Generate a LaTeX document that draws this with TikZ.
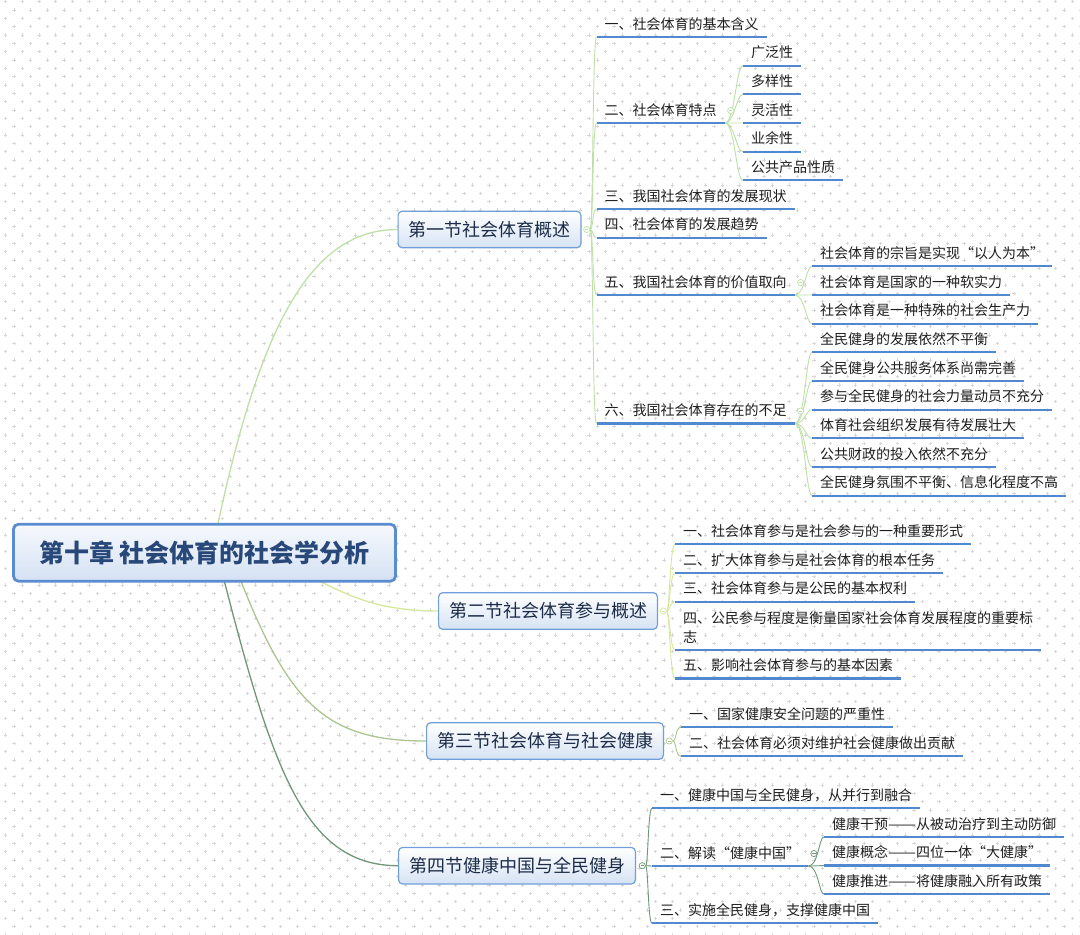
\documentclass[tikz,border=0pt]{standalone}
\usepackage{fontspec}
\usepackage{graphicx}
\setmainfont{Noto Sans CJK SC}
\usetikzlibrary{positioning,backgrounds}

\definecolor{ulinec}{RGB}{80,137,207}
\definecolor{rootline}{RGB}{90,140,208}
\definecolor{roottop}{RGB}{246,249,253}
\definecolor{rootbot}{RGB}{212,225,243}
\definecolor{secline}{RGB}{112,158,218}
\definecolor{secbot}{RGB}{214,227,244}
\definecolor{roottext}{RGB}{40,72,122}
\definecolor{sectext}{RGB}{28,44,72}
\definecolor{leaftext}{RGB}{30,30,30}
\definecolor{gridc}{RGB}{215,215,215}
\definecolor{brA}{RGB}{190,224,166}
\definecolor{brB}{RGB}{214,232,156}
\definecolor{brC}{RGB}{170,198,142}
\definecolor{brD}{RGB}{112,150,122}
\newcommand\wdash{\resizebox{28pt}{\height}{——}}
\newcommand\wcomma{\makebox[14pt][l]{，}}

\begin{document}
\begin{tikzpicture}[x=1pt,y=-1pt,
 rootbox/.style={draw=rootline,line width=2.8pt,rounded corners=5pt,top color=roottop,bottom color=rootbot,minimum width=382pt,minimum height=57pt,font=\fontsize{25}{30}\selectfont\bfseries,text=roottext},
 sect/.style={draw=secline,line width=1.2pt,rounded corners=4pt,top color=white,bottom color=secbot,minimum height=36.5pt,inner xsep=10.4pt,anchor=west,font=\fontsize{18}{22}\selectfont,text=sectext},
 leaf/.style={anchor=south west,inner xsep=8pt,inner ysep=0pt,text height=12pt,text depth=7.7pt,font=\fontsize{14}{18.5}\selectfont,text=leaftext,
  append after command={(\tikzlastnode.south west) edge[draw=ulinec,line width=2.2pt] (\tikzlastnode.south east)}},
 fold/.style={circle,draw=#1,fill=white,line width=0.7pt,minimum size=6.2pt,inner sep=0pt,
  path picture={\draw[#1,line width=0.6pt] ([xshift=1.4pt]path picture bounding box.west) -- ([xshift=-1.4pt]path picture bounding box.east);}},
 br/.style={draw=#1,line width=0.9pt}]
\useasboundingbox (0,0) rectangle (1080,935);

% dotted backdrop
\begin{scope}[on background layer]
\fill[white] (0,0) rectangle (1080,935);
\foreach \j in {0,...,112}
 \draw[gridc,line width=0.6pt] \foreach \i in {0,...,64} {({5.7+16.667*\i+8.333*mod(\j,2)},{1.7+8.333*\j}) +(-1.6,0) -- +(1.6,0) +(0,-1.6) -- +(0,1.6)};
\end{scope}

\node[rootbox] (root) at (204.5,552.7) {第十章 社会体育的社会学分析};

% sections
\node[sect] (sec1) at (397.5,229.5) {第一节社会体育概述};
\node[sect] (sec2) at (438,611) {第二节社会体育参与概述};
\node[sect] (sec3) at (426,741) {第三节社会体育与社会健康};
\node[sect] (sec4) at (398,865.7) {第四节健康中国与全民健身};
\node[fold=brA,right=1.8pt of sec1] (f1) {};
\node[fold=brB,right=1.8pt of sec2] (f2) {};
\node[fold=brC,right=1.8pt of sec3] (f3) {};
\node[fold=brD,right=2.8pt of sec4] (f4) {};

% section 1
\node[leaf] (a1) at (596.5,37) {一、社会体育的基本含义};
\node[leaf] (a2) at (596.5,123) {二、社会体育特点};
\node[leaf] (a3) at (596.5,209) {三、我国社会体育的发展现状};
\node[leaf] (a4) at (596.5,237.7) {四、社会体育的发展趋势};
\node[leaf] (a5) at (596.5,295) {五、我国社会体育的价值取向};
\node[leaf] (a6) at (596.5,423.5) {六、我国社会体育存在的不足};
\foreach \t [count=\i] in {广泛性,多样性,灵活性,业余性,公共产品性质}
 \node[leaf] (a2s\i) at (743,{37+28.67*\i}) {\t};
\foreach \t [count=\i] in {社会体育的宗旨是实现“以人为本”,社会体育是国家的一种软实力,社会体育是一种特殊的社会生产力}
 \node[leaf] (a5s\i) at (812,{37+28.67*(\i+7)}) {\t};
\foreach \t [count=\i] in {全民健身的发展依然不平衡,全民健身公共服务体系尚需完善,参与全民健身的社会力量动员不充分,体育社会组织发展有待发展壮大,公共财政的投入依然不充分,全民健身氛围不平衡、信息化程度不高}
 \node[leaf] (a6s\i) at (812,{37+28.67*(\i+10)}) {\t};
\node[fold=brA,right=2.3pt of a2,yshift=2.4pt] (a2f) {};
\node[fold=brA,right=2.3pt of a5,yshift=2.4pt] (a5f) {};
\node[fold=brA,right=2.3pt of a6,yshift=2.4pt] (a6f) {};

% section 2
\node[leaf] (b1) at (675,544) {一、社会体育参与是社会参与的一种重要形式};
\node[leaf] (b2) at (675,573) {二、扩大体育参与是社会体育的根本任务};
\node[leaf] (b3) at (675,601.7) {三、社会体育参与是公民的基本权利};
\node[leaf,align=left] (b4) at (675,650) {四、公民参与程度是衡量国家社会体育发展程度的重要标\\志};
\node[leaf] (b5) at (675,678.5) {五、影响社会体育参与的基本因素};

% section 3
\node[leaf] (c1) at (681,727.3) {一、国家健康安全问题的严重性};
\node[leaf] (c2) at (681,756.3) {二、社会体育必须对维护社会健康做出贡献};

% section 4
\node[leaf] (d1) at (652,808.3) {一、健康中国与全民健身\wcomma 从并行到融合};
\node[leaf] (d2) at (652,866) {二、解读“健康中国”};
\node[leaf] (d3) at (652,923.3) {三、实施全民健身\wcomma 支撑健康中国};
\foreach \t [count=\i] in {健康干预\wdash 从被动治疗到主动防御,健康概念\wdash 四位一体“大健康”,健康推进\wdash 将健康融入所有政策}
 \node[leaf] (d2s\i) at (824,{808.3+28.6*\i}) {\t};
\node[fold=brD,right=2pt of d2,yshift=2.4pt] (d2f) {};

% connectors
\begin{scope}[on background layer]
\draw[br=brA,line width=1.3pt] ([xshift=7.5pt]root.center) .. controls +(44,-220) and +(-90,0) .. (sec1.west);
\draw[br=brB,line width=1.3pt] (root.center) .. controls +(116,0) and +(-116,0) .. (sec2.west);
\draw[br=brC,line width=1.3pt] ([xshift=25.5pt]root.center) .. controls +(55,147) and +(-106,0) .. (sec3.west);
\draw[br=brD,line width=1.3pt] ([xshift=12.5pt]root.center) .. controls +(53,207) and +(-98,0) .. (sec4.west);
\foreach \b in {a1,a2,a3,a4,a5,a6}
 \draw[br=brA] (f1.east) .. controls +(3,0) and +(-4,0) .. (\b.south west);
\foreach \b in {a2s1,a2s2,a2s3,a2s4,a2s5}
 \draw[br=brA] (a2.south east) .. controls +(10,0) and +(-7,0) .. (\b.south west);
\foreach \b in {a5s1,a5s2,a5s3}
 \draw[br=brA] (a5.south east) .. controls +(10,0) and +(-6,0) .. (\b.south west);
\foreach \b in {a6s1,a6s2,a6s3,a6s4,a6s5,a6s6}
 \draw[br=brA] (a6.south east) .. controls +(10,0) and +(-6,0) .. (\b.south west);
\foreach \b in {b1,b2,b3,b4,b5}
 \draw[br=brB] (f2.east) .. controls +(3,0) and +(-5,0) .. (\b.south west);
\foreach \b in {c1,c2}
 \draw[br=brC] (f3.east) .. controls +(4,0) and +(-6,0) .. (\b.south west);
\foreach \b in {d1,d2,d3}
 \draw[br=brD] (f4.east) .. controls +(2.5,0) and +(-4,0) .. (\b.south west);
\foreach \b in {d2s1,d2s2,d2s3}
 \draw[br=brD] (d2.south east) .. controls +(10,0) and +(-5,0) .. (\b.south west);
\end{scope}
\end{tikzpicture}
\end{document}
